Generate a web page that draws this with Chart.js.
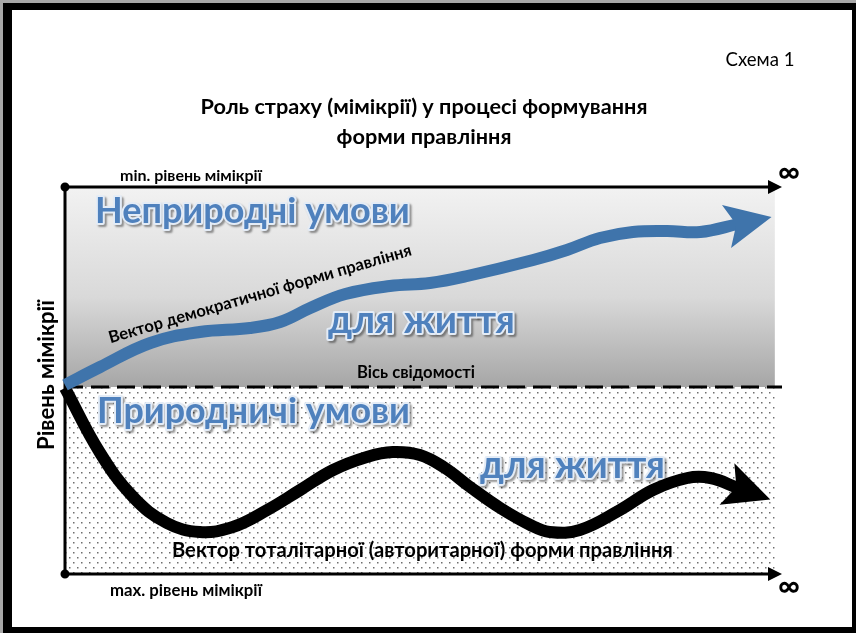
<!DOCTYPE html>
<html>
<head>
<meta charset="utf-8">
<script src="https://cdn.jsdelivr.net/npm/chart.js@4/dist/chart.umd.min.js"></script>
<style>
  html, body { margin: 0; padding: 0; }
  body { width: 856px; height: 633px; position: relative; background: #a8a8a8; overflow: hidden; }
  #frame { position: absolute; left: 3px; top: 3px; right: 0; bottom: 0; background: #000; }
  #page { position: absolute; left: 12px; top: 10px; width: 840px; height: 617px; background: #fff; }
  #chart { position: absolute; left: 0; top: 0; }
</style>
</head>
<body>
<div id="frame"></div>
<div id="page"></div>
<canvas id="chart" width="856" height="633"></canvas>
<script>
// x: 0 = origin of the axes, 100 = tips of the arrows ("∞")
// y: 0 = "Вісь свідомості", positive = up (less mimicry)
const demoX  = [0, 4.9, 11.9, 18.8, 25.8, 30.0, 34.2, 39.1, 45.3, 50.9, 56.1, 65.3, 70.0, 74.6, 79.2, 84.0, 88.6, 93.9];
const demoY  = [1, 10, 22, 27.5, 29.5, 32.5, 39.5, 46.5, 50.5, 52, 55.5, 63.5, 68.5, 74.5, 77.5, 78, 77.5, 81.5];
const totalX = [0, 4.9, 9.5, 14.2, 18.8, 23.4, 28.2, 32.8, 37.4, 42.1, 45.7, 49.5, 53.0, 56.5, 60.7, 64.9, 67.6, 71.8, 77.4, 82.0, 86.8, 90.0, 93.9];
const totalY = [-0.5, -33, -55, -68, -72.5, -70, -61.5, -51.5, -41.5, -35, -32.5, -34, -40.5, -50, -60.5, -69, -72.5, -71.5, -61.5, -51.5, -45.5, -45.5, -50.5];

const seriesNames = ["Вектор демократичної форми правління", "Вектор тоталітарної (авторитарної) форми правління"];
const zoneNames = ["Неприродні умови", "для життя", "Природничі умови", "для життя"];
const axisLabels = ["min. рівень мімікрії", "max. рівень мімікрії", "Рівень мімікрії", "Вісь свідомості", "∞"];
const titleLines = ["Роль страху (мімікрії) у процесі формування", "форми правління"];
const schemeLabel = "Схема 1";

const FONT = "Lato, 'Open Sans', sans-serif";
const BLUE = "#3f74ab";
const ZONE_BLUE = "#4f81bd";
const zoneEnd = 99; // right edge of the shaded zones in x units

function pts(xs, ys) { return xs.map((v, i) => ({ x: v, y: ys[i] })); }

function txt(ctx, s, x, y, o) {
  o = o || {};
  let size = o.size || 14;
  const weight = o.weight || "bold";
  ctx.font = weight + " " + size + "px " + FONT;
  if (o.width) {
    size = size * o.width / ctx.measureText(s).width;
    ctx.font = weight + " " + size + "px " + FONT;
  }
  ctx.textAlign = o.align || "left";
  ctx.textBaseline = "middle";
  ctx.fillStyle = o.color || "#000";
  ctx.fillText(s, x, y);
}

function zoneText(ctx, s, x, y, width, size) {
  ctx.save();
  ctx.font = "bold " + size + "px " + FONT;
  const k = width / ctx.measureText(s).width;
  ctx.font = "bold " + (size * k) + "px " + FONT;
  ctx.textAlign = "left";
  ctx.textBaseline = "middle";
  ctx.lineJoin = "round";
  ctx.shadowColor = "rgba(0,0,0,0.4)";
  ctx.shadowOffsetX = 2;
  ctx.shadowOffsetY = 2;
  ctx.shadowBlur = 2;
  ctx.strokeStyle = "#e4ecf6";
  ctx.lineWidth = 4;
  ctx.strokeText(s, x, y);
  ctx.shadowColor = "transparent";
  ctx.fillStyle = ZONE_BLUE;
  ctx.fillText(s, x, y);
  ctx.restore();
}

function dotPattern(ctx) {
  const c = document.createElement("canvas");
  c.width = 8; c.height = 10;
  const g = c.getContext("2d");
  g.fillStyle = "#fff";
  g.fillRect(0, 0, 8, 10);
  g.fillStyle = "#6e6e6e";
  g.fillRect(1, 2, 1.5, 1.5);
  g.fillRect(5, 7, 1.5, 1.5);
  return ctx.createPattern(c, "repeat");
}

function arrowHead(ctx, p, q, color) {
  const dx = q.x - p.x, dy = q.y - p.y;
  const len = Math.hypot(dx, dy);
  const ux = dx / len, uy = dy / len, nx = -uy, ny = ux;
  ctx.save();
  ctx.fillStyle = color;
  ctx.beginPath();
  ctx.moveTo(q.x + ux * 34, q.y + uy * 34);
  ctx.lineTo(q.x - ux * 12 + nx * 22, q.y - uy * 12 + ny * 22);
  ctx.lineTo(q.x - ux * 2, q.y - uy * 2);
  ctx.lineTo(q.x - ux * 12 - nx * 22, q.y - uy * 12 - ny * 22);
  ctx.closePath();
  ctx.fill();
  ctx.restore();
}

function axisArrow(ctx, x1, x2, y) {
  ctx.beginPath();
  ctx.moveTo(x1, y);
  ctx.lineTo(x2 - 12, y);
  ctx.stroke();
  ctx.beginPath();
  ctx.moveTo(x2, y);
  ctx.lineTo(x2 - 14, y - 7);
  ctx.lineTo(x2 - 14, y + 7);
  ctx.closePath();
  ctx.fill();
}

const diagram = {
  id: "diagram",
  beforeDatasetsDraw(chart) {
    const { ctx, chartArea: a, scales: { x, y } } = chart;
    const y0 = y.getPixelForValue(0);
    const xe = x.getPixelForValue(zoneEnd);
    ctx.save();
    const grad = ctx.createLinearGradient(0, a.top, 0, y0);
    grad.addColorStop(0, "#f2f2f2");
    grad.addColorStop(0.55, "#d9d9d9");
    grad.addColorStop(1, "#a6a6a6");
    ctx.fillStyle = grad;
    ctx.fillRect(a.left, a.top, xe - a.left, y0 - a.top);
    ctx.fillStyle = dotPattern(ctx);
    ctx.fillRect(a.left, y0, xe - a.left, a.bottom - y0);

    ctx.strokeStyle = "#000";
    ctx.fillStyle = "#000";
    ctx.lineWidth = 3;
    ctx.setLineDash([18, 8]);
    ctx.beginPath();
    ctx.moveTo(a.left, y0);
    ctx.lineTo(a.right, y0);
    ctx.stroke();
    ctx.setLineDash([]);

    ctx.beginPath();
    ctx.moveTo(a.left, a.top);
    ctx.lineTo(a.left, a.bottom);
    ctx.stroke();
    axisArrow(ctx, a.left, a.right, a.top);
    axisArrow(ctx, a.left, a.right, a.bottom);
    ctx.beginPath();
    ctx.arc(a.left, a.top, 4.5, 0, Math.PI * 2);
    ctx.arc(a.left, a.bottom, 4.5, 0, Math.PI * 2);
    ctx.fill();

    zoneText(ctx, zoneNames[0], 95, 211, 315, 36);
    zoneText(ctx, zoneNames[1], 328, 321, 187, 36);
    zoneText(ctx, zoneNames[2], 97, 411, 313, 36);
    zoneText(ctx, zoneNames[3], 480, 466, 185, 36);
    ctx.restore();
  },
  afterDatasetsDraw(chart) {
    const { ctx, scales: { y } } = chart;
    const colors = [BLUE, "#000"];
    chart.data.datasets.forEach((ds, i) => {
      const els = chart.getDatasetMeta(i).data;
      arrowHead(ctx, els[els.length - 2], els[els.length - 1], colors[i]);
    });

    ctx.save();
    txt(ctx, schemeLabel, 760, 60, { weight: "normal", size: 17, align: "center", width: 69 });
    txt(ctx, titleLines[0], 424, 107, { size: 18, align: "center", width: 447 });
    txt(ctx, titleLines[1], 424, 137, { size: 18, align: "center", width: 175 });
    txt(ctx, axisLabels[0], 120, 176, { size: 13, width: 142 });
    txt(ctx, axisLabels[1], 110, 591, { size: 13, width: 152 });
    txt(ctx, axisLabels[4], 789, 172, { size: 30, align: "center" });
    txt(ctx, axisLabels[4], 789, 586, { size: 30, align: "center" });
    txt(ctx, axisLabels[3], 357, y.getPixelForValue(0) - 14, { size: 13, width: 118 });
    txt(ctx, seriesNames[1], 172, 550, { size: 16, width: 501 });

    ctx.save();
    ctx.translate(47, 375);
    ctx.rotate(-Math.PI / 2);
    txt(ctx, axisLabels[2], 0, 0, { size: 16, align: "center", width: 150 });
    ctx.restore();

    ctx.save();
    ctx.translate(260, 294);
    ctx.rotate(-16.3 * Math.PI / 180);
    txt(ctx, seriesNames[0], 0, 0, { size: 14, align: "center", width: 315 });
    ctx.restore();
    ctx.restore();
  }
};

new Chart(document.getElementById("chart"), {
  type: "line",
  data: {
    datasets: [
      {
        label: seriesNames[0],
        data: pts(demoX, demoY),
        borderColor: BLUE,
        borderWidth: 12,
        pointRadius: 0,
        tension: 0.4,
        clip: false
      },
      {
        label: seriesNames[1],
        data: pts(totalX, totalY),
        borderColor: "#000",
        borderWidth: 12,
        pointRadius: 0,
        tension: 0.4,
        clip: false
      }
    ]
  },
  options: {
    responsive: false,
    animation: false,
    events: [],
    layout: { padding: { left: 65, right: 74, top: 187, bottom: 59 } },
    scales: {
      x: { type: "linear", min: 0, max: 100, display: false },
      y: { type: "linear", min: -93.5, max: 100, display: false }
    },
    plugins: {
      legend: { display: false },
      tooltip: { enabled: false }
    }
  },
  plugins: [diagram]
});
</script>
</body>
</html>
